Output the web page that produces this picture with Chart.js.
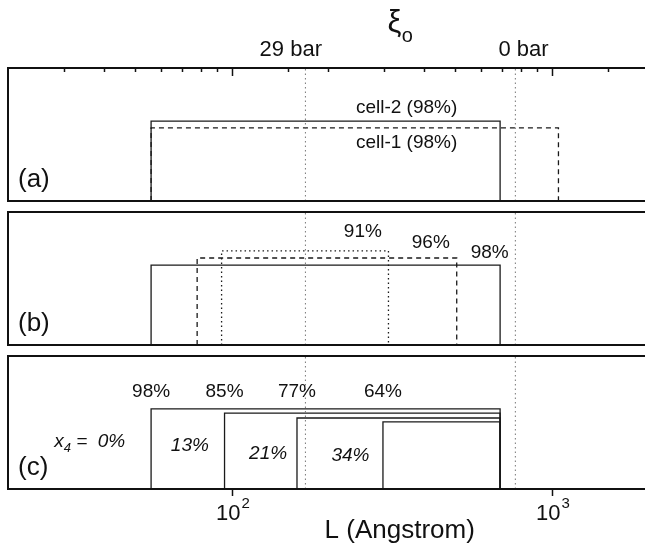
<!DOCTYPE html>
<html>
<head>
<meta charset="utf-8">
<script src="https://cdn.jsdelivr.net/npm/chart.js@4"></script>
<style>
  html, body { margin: 0; padding: 0; background: #fff; overflow: hidden; }
  #wrap { position: relative; width: 645px; height: 548px; overflow: hidden; }
  canvas { position: absolute; left: 0; }
</style>
</head>
<body>
<div id="wrap">
  <canvas id="panelA" width="656" height="205" style="top:0px"></canvas>
  <canvas id="panelB" width="656" height="145" style="top:205px"></canvas>
  <canvas id="panelC" width="656" height="198" style="top:350px"></canvas>
</div>
<script>
// length axis (Angstrom)
const lMin = 20, lMax = 2000;

// coherence length xi_0 at the two pressures
const xiL = [170, 770];
const xiNames = ['29 bar', '0 bar'];

// (a) the two cells
const cellNames = ['cell-2 (98%)', 'cell-1 (98%)'];
const cellStart = [56, 56];
const cellEnd = [690, 1050];
const cellHeight = [60, 55];

// (b) porosity series
const bPct = ['98%', '96%', '91%'];
const bStart = [56, 78, 93];
const bEnd = [690, 505, 309];
const bHeight = [60, 65.4, 70.7];

// (c) 98% aerogel with 4He coverage x4
const cPct = ['98%', '85%', '77%', '64%'];
const cX4 = ['0%', '13%', '21%', '34%'];
const cStart = [56, 95, 160, 297];
const cEnd = [690, 690, 690, 690];
const cHeight = [60.2, 57.1, 53.4, 50.4];

const FONT = '"Liberation Sans", Arial, Helvetica, sans-serif';
const INK = '#111';

function box(x0, x1, h) {
  return [{x: x0, y: 0}, {x: x0, y: h}, {x: x1, y: h}, {x: x1, y: 0}];
}

function rect(x0, x1, h, dash) {
  return {
    data: box(x0, x1, h),
    borderColor: '#1a1a1a',
    borderWidth: 1.3,
    borderDash: dash || [],
    pointRadius: 0,
    fill: false,
    tension: 0
  };
}

function xiLines() {
  return xiL.map(v => ({
    data: [{x: v, y: 0}, {x: v, y: 100}],
    borderColor: '#777',
    borderWidth: 1,
    borderDash: [1.5, 3],
    pointRadius: 0,
    fill: false
  }));
}

function isDecade(v) {
  const e = Math.log10(v);
  return Math.abs(e - Math.round(e)) < 1e-9;
}

function tickValues(scale) {
  if (scale.ticks && scale.ticks.length) return scale.ticks.map(t => t.value);
  const out = [];
  for (let d = 10; d < lMax; d *= 10)
    for (let k = 1; k < 10; k++) out.push(k * d);
  out.push(lMax);
  return out.filter(v => v >= lMin && v <= lMax);
}

function put(ctx, str, px, py, size, opts) {
  opts = opts || {};
  ctx.font = (opts.italic ? 'italic ' : '') + size + 'px ' + FONT;
  ctx.textAlign = opts.align || 'center';
  ctx.textBaseline = 'middle';
  ctx.fillStyle = INK;
  ctx.fillText(str, px, py);
}

// border, tick marks and all text of a panel
const framePlugin = {
  id: 'frame',
  afterDatasetsDraw(chart, args, o) {
    const {ctx, chartArea: a, scales: {x, y}} = chart;
    ctx.save();
    ctx.strokeStyle = INK;
    ctx.lineWidth = 2;
    ctx.strokeRect(a.left, a.top, a.right - a.left, a.bottom - a.top);

    ctx.lineWidth = 1.5;
    if (o.topTicks) {
      tickValues(x).forEach(v => {
        if (v <= lMin || v >= lMax) return;
        const px = Math.round(x.getPixelForValue(v)) + 0.5;
        ctx.beginPath();
        ctx.moveTo(px, a.top);
        ctx.lineTo(px, a.top + (isDecade(v) ? 8 : 4));
        ctx.stroke();
      });
    }
    if (o.bottomTicks) {
      tickValues(x).forEach(v => {
        if (v <= lMin || v >= lMax || !isDecade(v)) return;
        const px = Math.round(x.getPixelForValue(v)) + 0.5;
        ctx.beginPath();
        ctx.moveTo(px, a.bottom);
        ctx.lineTo(px, a.bottom + 7);
        ctx.stroke();
        // 10^n label
        const exp = String(Math.round(Math.log10(v)));
        ctx.font = '22px ' + FONT;
        const wb = ctx.measureText('10').width;
        ctx.font = '15px ' + FONT;
        const we = ctx.measureText(exp).width;
        const left = px - (wb + we) / 2;
        put(ctx, '10', left, a.bottom + 25, 22, {align: 'left'});
        put(ctx, exp, left + wb + 1, a.bottom + 15, 15, {align: 'left'});
      });
      put(ctx, 'L (Angstrom)', x.getPixelForValue(335), a.bottom + 42, 26);
    }

    // panel letter
    put(ctx, o.letter, a.left + 10, a.bottom - 21, 26, {align: 'left'});

    (o.notes || []).forEach(n => {
      put(ctx, n.text, x.getPixelForValue(n.L), y.getPixelForValue(n.y), 19, {italic: n.italic});
    });

    if (o.header) {
      xiNames.forEach((s, i) => {
        put(ctx, s, x.getPixelForValue(o.header[i]), a.top - 18, 22);
      });
      const gx = x.getPixelForValue(332);
      put(ctx, '\u03BE', gx - 4, a.top - 45, 31);
      put(ctx, 'o', gx + 9, a.top - 32, 20);
    }

    if (o.x4) {
      // x_4 = 0% with subscript
      const px = x.getPixelForValue(o.x4.L);
      const py = y.getPixelForValue(o.x4.y);
      ctx.font = 'italic 19px ' + FONT;
      const w1 = ctx.measureText('x').width;
      const rest = ' =  ' + o.x4.text;
      const w3 = ctx.measureText(rest).width;
      ctx.font = 'italic 13px ' + FONT;
      const w2 = ctx.measureText('4').width;
      let left = px - (w1 + w2 + w3) / 2;
      put(ctx, 'x', left, py, 19, {italic: true, align: 'left'});
      put(ctx, '4', left + w1, py + 6, 13, {italic: true, align: 'left'});
      put(ctx, rest, left + w1 + w2, py, 19, {italic: true, align: 'left'});
    }
    ctx.restore();
  }
};

function panel(id, datasets, padding, frame) {
  return new Chart(document.getElementById(id), {
    type: 'line',
    data: {datasets},
    options: {
      responsive: false,
      animation: false,
      events: [],
      layout: {padding},
      plugins: {legend: {display: false}, tooltip: {enabled: false}, frame},
      scales: {
        x: {type: 'logarithmic', min: lMin, max: lMax, display: false, ticks: {autoSkip: false}},
        y: {type: 'linear', min: 0, max: 100, display: false}
      }
    },
    plugins: [framePlugin]
  });
}

// (a)
panel('panelA', [
  ...xiLines(),
  rect(cellStart[1], cellEnd[1], cellHeight[1], [5, 4]),
  rect(cellStart[0], cellEnd[0], cellHeight[0])
], {left: 8, right: 8, top: 68, bottom: 4}, {
  letter: '(a)',
  topTicks: true,
  header: [153, 817],
  notes: [
    {text: cellNames[0], L: 352, y: 70},
    {text: cellNames[1], L: 352, y: 43.6}
  ]
});

// (b)
panel('panelB', [
  ...xiLines(),
  rect(bStart[2], bEnd[2], bHeight[2], [1.5, 3]),
  rect(bStart[1], bEnd[1], bHeight[1], [5, 4]),
  rect(bStart[0], bEnd[0], bHeight[0])
], {left: 8, right: 8, top: 7, bottom: 5}, {
  letter: '(b)',
  notes: [
    {text: bPct[2], L: 257, y: 85},
    {text: bPct[1], L: 419, y: 76.7},
    {text: bPct[0], L: 640, y: 69.2}
  ]
});

// (c)
const x4At = [{L: 36, y: 35.3}, {L: 74, y: 32.3}, {L: 130, y: 26.3}, {L: 235, y: 24.8}];
panel('panelC', [
  ...xiLines(),
  ...cStart.map((s, i) => rect(s, cEnd[i], cHeight[i]))
], {left: 8, right: 8, top: 6, bottom: 59}, {
  letter: '(c)',
  bottomTicks: true,
  notes: [
    ...cPct.map((p, i) => ({text: p, L: cStart[i], y: 73})),
    ...cX4.slice(1).map((p, i) => ({text: p, L: x4At[i + 1].L, y: x4At[i + 1].y, italic: true}))
  ],
  x4: {text: cX4[0], L: x4At[0].L, y: x4At[0].y}
});
</script>
</body>
</html>
